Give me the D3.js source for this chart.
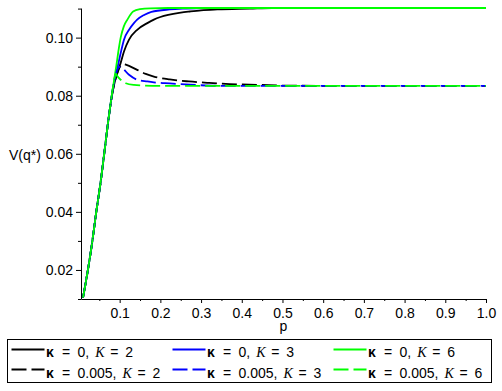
<!DOCTYPE html>
<html>
<head>
<meta charset="utf-8">
<script src="https://cdn.jsdelivr.net/npm/d3@7"></script>
<style>
body { margin: 0; background: #fff; }
svg { display: block; font-family: "Liberation Sans", Arial, sans-serif; }
</style>
</head>
<body>
<div id="chart"></div>
<script>
// tick values and labels
var X_TICKS = [0.1, 0.2, 0.3, 0.4, 0.5, 0.6, 0.7, 0.8, 0.9, 1.0];
var X_TICK_LABELS = ["0.1", "0.2", "0.3", "0.4", "0.5", "0.6", "0.7", "0.8", "0.9", "1.0"];
var X_MINOR = [0.05, 0.15, 0.25, 0.35, 0.45, 0.55, 0.65, 0.75, 0.85, 0.95];
var Y_TICKS = [0.02, 0.04, 0.06, 0.08, 0.10];
var Y_TICK_LABELS = ["0.02", "0.04", "0.06", "0.08", "0.10"];
var Y_MINOR = [0.01, 0.03, 0.05, 0.07, 0.09, 0.11];

// common rising part, [p, V]
var RISE = [[0.01, 0.0105], [0.022, 0.020], [0.033, 0.030], [0.0425, 0.040], [0.053, 0.050],
	[0.062, 0.060], [0.0713, 0.0706], [0.076, 0.0755]];

// kappa = 0
var K2_SOLID = [[0.082, 0.0808], [0.088, 0.0848], [0.094, 0.0877], [0.1025, 0.0913], [0.1106, 0.0952],
	[0.123, 0.0993], [0.143, 0.1027], [0.168, 0.1050], [0.184, 0.1062], [0.20, 0.1071], [0.25, 0.1086],
	[0.273, 0.1090], [0.30, 0.1094], [0.34, 0.1097], [0.42, 0.1100], [0.474, 0.1102], [1.0, 0.1102]];
var K3_SOLID = [[0.082, 0.0812], [0.088, 0.0858], [0.094, 0.0893], [0.1025, 0.0947], [0.1106, 0.0993],
	[0.123, 0.1027], [0.135, 0.1050], [0.143, 0.1062], [0.16, 0.1078], [0.178, 0.1089], [0.223, 0.1097],
	[0.26, 0.1100], [0.304, 0.1102], [1.0, 0.1102]];
var K6_SOLID = [[0.082, 0.0815], [0.088, 0.0868], [0.092, 0.0905], [0.096, 0.0945], [0.1025, 0.1000],
	[0.110, 0.1038], [0.119, 0.1062], [0.133, 0.1090], [0.150, 0.1098], [0.175, 0.1101], [0.22, 0.1102],
	[1.0, 0.1102]];

// kappa = 0.005
var K2_DASH = [[0.082, 0.0808], [0.088, 0.0848], [0.094, 0.0877], [0.1025, 0.0903], [0.110, 0.0909],
	[0.115, 0.0907], [0.143, 0.0889], [0.164, 0.0875], [0.184, 0.0866], [0.223, 0.0856], [0.27, 0.0849],
	[0.32, 0.0844], [0.37, 0.0840], [0.45, 0.0837], [0.50, 0.0835], [0.60, 0.0834], [1.0, 0.0834]];
var K3_DASH = [[0.082, 0.0812], [0.088, 0.0858], [0.094, 0.0889], [0.100, 0.0899], [0.106, 0.0895],
	[0.123, 0.0872], [0.143, 0.0855], [0.168, 0.0849], [0.184, 0.0846], [0.211, 0.0843], [0.262, 0.0839],
	[0.30, 0.0836], [0.35, 0.0834], [1.0, 0.0834]];
var K6_DASH = [[0.082, 0.0815], [0.0875, 0.0862], [0.0905, 0.0876], [0.094, 0.0868], [0.1025, 0.0855],
	[0.115, 0.0843], [0.135, 0.0837], [0.16, 0.0835], [0.20, 0.0834], [1.0, 0.0834]];

var KAPPAS = ["0", "0", "0", "0.005", "0.005", "0.005"];
var KS = ["2", "3", "6", "2", "3", "6"];
var COLORS = ["#000000", "#0000ff", "#00ff00", "#000000", "#0000ff", "#00ff00"];

var width = 502;
var height = 391;

var svg = d3.select("#chart").append("svg")
	.attr("width", width)
	.attr("height", height);

var x = d3.scaleLinear().domain([0.005, 1.0]).range([81, 486]);
var y = d3.scaleLinear().domain([0.01, 0.1102]).range([299, 8]);

var series = [K2_SOLID, K3_SOLID, K6_SOLID, K2_DASH, K3_DASH, K6_DASH].map(function(tail, i) {
	return {
		data: RISE.concat(tail),
		color: COLORS[i],
		dashed: i >= 3,
		kappa: KAPPAS[i],
		K: KS[i]
	};
});

var line = d3.line()
	.x(function(d) { return x(d[0]); })
	.y(function(d) { return y(d[1]); })
	.curve(d3.curveMonotoneX);

// curves
var g = svg.append("g").attr("class", "lines");
series.forEach(function(s) {
	g.append("path")
		.datum(s.data)
		.attr("d", line)
		.attr("fill", "none")
		.attr("stroke", s.color)
		.attr("stroke-width", 1.8)
		.attr("stroke-dasharray", s.dashed ? "15,5" : null);
});

// axes
function styleAxis(sel) {
	sel.attr("font-size", 14)
		.attr("font-family", "'Liberation Sans', Arial, sans-serif");
	sel.selectAll("text").attr("fill", "#000");
	sel.selectAll("line, path").attr("stroke", "#000");
}

svg.append("g")
	.attr("transform", "translate(81,0)")
	.call(d3.axisLeft(y).tickValues(Y_MINOR).tickFormat("").tickSize(3).tickSizeOuter(0))
	.call(styleAxis)
	.select(".domain").remove();

svg.append("g")
	.attr("transform", "translate(81,0)")
	.call(d3.axisLeft(y).tickValues(Y_TICKS)
		.tickFormat(function(d, i) { return Y_TICK_LABELS[i]; })
		.tickSize(5).tickSizeOuter(0).tickPadding(3))
	.call(styleAxis);

svg.append("g")
	.attr("transform", "translate(0,299)")
	.call(d3.axisBottom(x).tickValues(X_MINOR).tickFormat("").tickSize(2).tickSizeOuter(0))
	.call(styleAxis)
	.select(".domain").remove();

svg.append("g")
	.attr("transform", "translate(0,299)")
	.call(d3.axisBottom(x).tickValues(X_TICKS)
		.tickFormat(function(d, i) { return X_TICK_LABELS[i]; })
		.tickSize(4).tickSizeOuter(0).tickPadding(5))
	.call(styleAxis);

// axis titles
svg.append("text")
	.attr("x", 283.5)
	.attr("y", 331)
	.attr("text-anchor", "middle")
	.attr("font-size", 14)
	.text("p");

svg.append("text")
	.attr("x", 9)
	.attr("y", 160)
	.attr("font-size", 14)
	.text("V(q*)");

// legend
var legend = svg.append("g").attr("class", "legend");
legend.append("rect")
	.attr("x", 7.5)
	.attr("y", 339.5)
	.attr("width", 484)
	.attr("height", 43)
	.attr("fill", "none")
	.attr("stroke", "#000")
	.attr("stroke-width", 1);

series.forEach(function(s, i) {
	var col = i % 3;
	var row = Math.floor(i / 3);
	var lx = 11.5 + col * 161;
	var ly = 349.5 + row * 20;
	var base = 357 + row * 21;

	legend.append("line")
		.attr("x1", lx)
		.attr("x2", lx + 33)
		.attr("y1", ly)
		.attr("y2", ly)
		.attr("stroke", s.color)
		.attr("stroke-width", 2)
		.attr("stroke-dasharray", s.dashed ? "15,5" : null);

	var tx = lx + 34.5;
	var t = legend.append("text")
		.attr("y", base)
		.attr("font-size", 14);

	t.append("tspan").attr("x", tx).attr("font-weight", "bold").text("κ");
	t.append("tspan").attr("x", tx + 16).text("=");
	var val = t.append("tspan").attr("x", tx + 31.5).text(s.kappa + ",");
	var kx = tx + 31.5 + val.node().getComputedTextLength() + 6;
	t.append("tspan").attr("x", kx)
		.attr("font-family", "'Liberation Serif', serif")
		.attr("font-style", "italic")
		.text("K");
	t.append("tspan").attr("x", kx + 15).text("=");
	t.append("tspan").attr("x", kx + 30).text(s.K);
});
</script>
</body>
</html>
